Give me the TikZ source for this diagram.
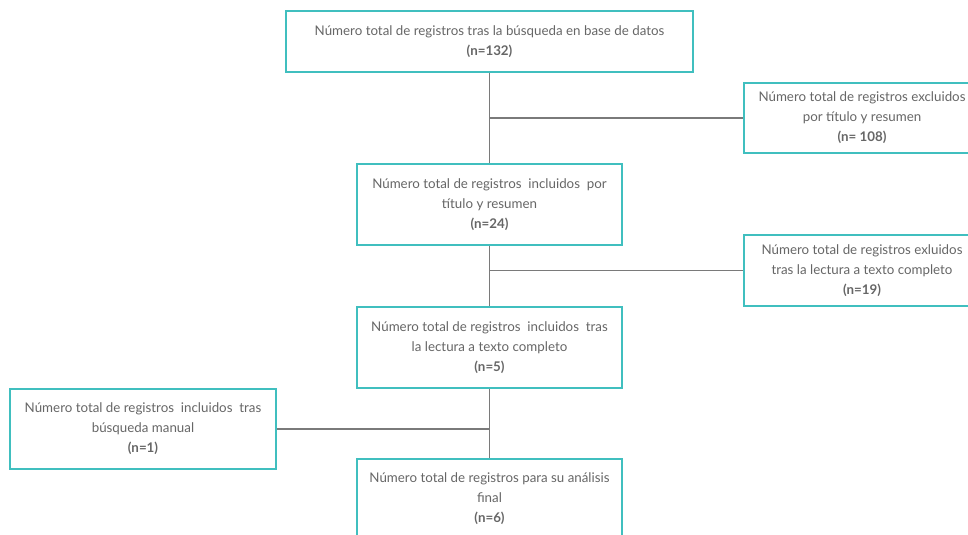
\documentclass[tikz,border=0pt]{standalone}
\usepackage{fontspec}
\setmainfont{Lato}
\usepackage{xcolor}
\usetikzlibrary{positioning}

\definecolor{boxteal}{HTML}{40BFBF}
\definecolor{txtgray}{HTML}{666666}
\definecolor{linegray}{HTML}{7A7A7A}

\begin{document}
\begin{tikzpicture}[
					x=0.75pt, y=-0.75pt,
					box/.style={draw=boxteal, line width=1.5pt, fill=white, align=center, text=txtgray,
						font=\fontsize{10}{15}\selectfont, inner sep=2pt},
					link/.style={draw=linegray, line width=1.3pt}
				]
					\useasboundingbox (0,0) rectangle (968,535);
					\node[box, minimum width=305pt, minimum height=45.75pt] (total) at (489.5,41.5)
						{Número total de registros tras la búsqueda en base de datos\\\textbf{(n=132)}};
					\node[box, minimum width=198.75pt, minimum height=60.75pt] (titulo) at (489.5,204.5)
						{Número total de registros\ \ incluidos\ \ por\\título y resumen\\\textbf{(n=24)}};
					\node[box, minimum width=198.75pt, minimum height=60.75pt] (texto) at (489.5,347.5)
						{Número total de registros\ \ incluidos\ \ tras\\la lectura a texto completo\\\textbf{(n=5)}};
					\node[box, minimum width=198.75pt, minimum height=60pt] (final) at (489.5,499)
						{Número total de registros para su análisis\\final\\\textbf{(n=6)}};
					\node[box, minimum width=177pt, minimum height=52.5pt] (excl1) at (862,118)
						{Número total de registros excluidos\\por título y resumen\\\textbf{(n= 108)}};
					\node[box, minimum width=177pt, minimum height=53.25pt] (excl2) at (862,270.5)
						{Número total de registros exluidos\\tras la lectura a texto completo\\\textbf{(n=19)}};
					\node[box, minimum width=199.5pt, minimum height=60pt] (manual) at (143,429)
						{Número total de registros\ \ incluidos\ \ tras\\búsqueda manual\\\textbf{(n=1)}};
					% connectors
					\draw[link] (total) -- (titulo);
					\draw[link] (total |- excl1) -- (excl1);
					\draw[link] (titulo) -- (texto);
					\draw[link] (titulo |- excl2) -- (excl2);
					\draw[link] (texto) -- (final);
					\draw[link] (texto |- manual) -- (manual);
				\end{tikzpicture}
\end{document}
